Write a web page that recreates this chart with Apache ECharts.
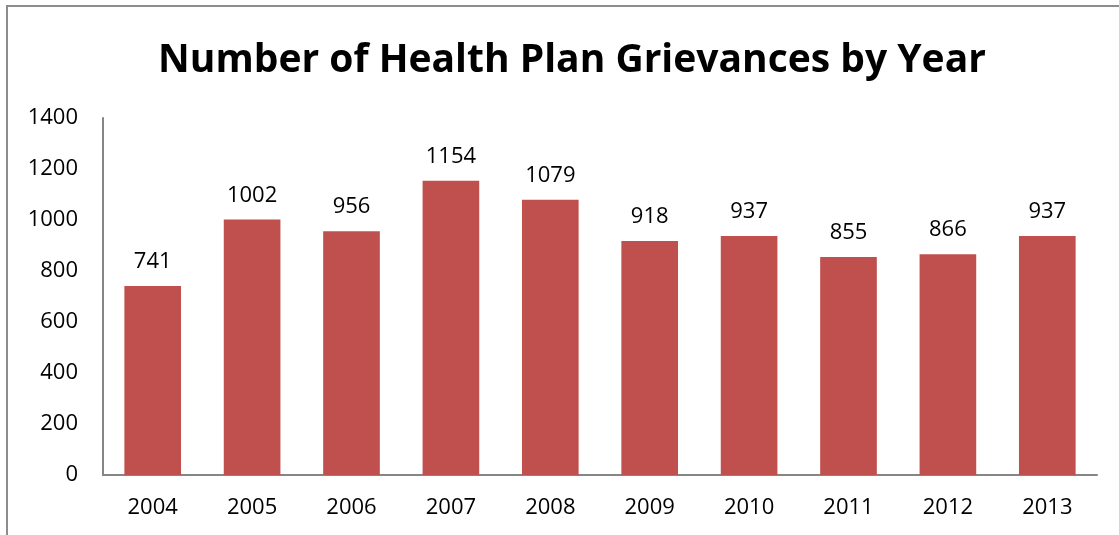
<!DOCTYPE html>
<html>
<head>
<meta charset="utf-8">
<script src="https://cdn.jsdelivr.net/npm/echarts@6/dist/echarts.min.js"></script>
<style>
  html, body { margin: 0; padding: 0; background: #fff; overflow: hidden; }
  #frame { position: absolute; left: 6px; top: 5px; width: 1200px; height: 600px; border: 2px solid #8c8c8c; box-sizing: border-box; }
  #main { position: absolute; left: 0; top: 0; width: 1119px; height: 535px; }
</style>
</head>
<body>
<div id="frame"></div>
<div id="main"></div>
<script>
let years = ['2004', '2005', '2006', '2007', '2008', '2009', '2010', '2011', '2012', '2013'];
let grievances = [741, 1002, 956, 1154, 1079, 918, 937, 855, 866, 937];
let yTicks = [0, 200, 400, 600, 800, 1000, 1200, 1400];

let chart = echarts.init(document.getElementById('main'));
chart.setOption({
  animation: false,
  title: {
    text: 'Number of Health Plan Grievances by Year',
    left: 567,
    top: 36,
    textAlign: 'center',
    textStyle: {
      fontFamily: 'Open Sans',
      fontWeight: 'bold',
      fontSize: 39,
      color: '#000'
    }
  },
  grid: {
    left: 103,
    right: 22,
    top: 118,
    bottom: 60
  },
  xAxis: {
    type: 'category',
    data: years,
    axisLine: { lineStyle: { color: '#868686', width: 2 } },
    axisTick: { show: false },
    axisLabel: {
      fontFamily: 'Open Sans',
      fontSize: 22,
      color: '#000',
      margin: 22
    }
  },
  yAxis: {
    type: 'value',
    min: yTicks[0],
    max: yTicks[yTicks.length - 1],
    interval: 200,
    axisLine: { show: true, lineStyle: { color: '#868686', width: 2 } },
    axisTick: { show: false },
    splitLine: { show: false },
    axisLabel: {
      fontFamily: 'Open Sans',
      fontSize: 22,
      color: '#000',
      margin: 25,
      formatter: v => String(v)
    }
  },
  series: [{
    type: 'bar',
    data: grievances,
    barWidth: '57%',
    itemStyle: { color: '#C0504D' },
    label: {
      show: true,
      position: 'top',
      distance: 13,
      fontFamily: 'Open Sans',
      fontSize: 22,
      color: '#000'
    }
  }]
});
</script>
</body>
</html>
